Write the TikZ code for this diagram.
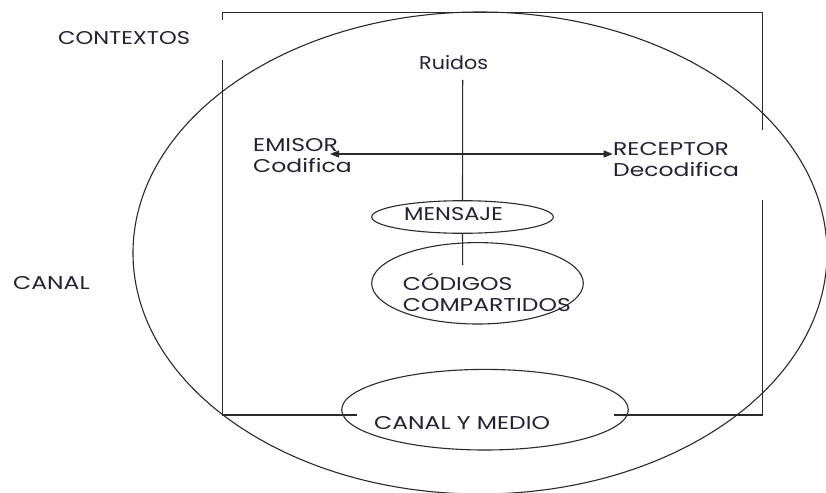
\documentclass[tikz,border=0pt]{standalone}
\usepackage{fontspec}
\usepackage{graphicx}
\setmainfont{Poppins}[FakeStretch=1.27]
\usetikzlibrary{shapes.geometric,arrows.meta}
\definecolor{inkc}{HTML}{222233}
\definecolor{linec}{HTML}{2A2A2A}
\begin{document}
\begin{tikzpicture}[x=1pt,y=-1pt,
  lbl/.style={inner sep=0pt,text=inkc,font=\fontsize{18.5}{21}\selectfont,align=left},
  oval/.style={ellipse,draw=linec,line width=1.1pt,inner sep=0pt},
  edge/.style={draw=linec,line width=1.1pt}]
\fill[white] (0,0) rectangle (826,492);
\useasboundingbox (0,0) rectangle (826,492);
% context frame
\draw[edge] (222.7,20) -- (222.7,12.3) -- (762.7,12.3) -- (762.7,130);
\draw[edge] (222.7,60) -- (222.7,415) -- (356.7,415);
\draw[edge] (614,415) -- (762.7,415) -- (762.7,200);
% ellipses
\node[oval,minimum width=694pt,minimum height=482pt] (canalov) at (480,253) {};
\node[oval,minimum width=181.6pt,minimum height=32.6pt] (mensajeov) at (462.5,217) {};
\node[oval,minimum width=211.6pt,minimum height=81.4pt] (codigosov) at (477.5,283.3) {};
\node[oval,minimum width=286.6pt,minimum height=80.6pt] (medioov) at (485,409.7) {};
% labels
\node[lbl,anchor=base west] (contextos) at (58,45) {\scalebox{0.96}[1]{CONTEXTOS}};
\node[lbl,anchor=base west] (canal) at (13,289) {CANAL};
\node[lbl,anchor=base west] (ruidos) at (419,70) {\scalebox{0.88}[1]{Ruidos}};
\node[lbl,anchor=base west] (mensaje) at (404,220.7) {\scalebox{0.96}[1]{MENSAJE}};
\node[lbl,anchor=base west] (medio) at (374,429) {CANAL Y MEDIO};
\node[lbl,anchor=north west] (emisor) at (253,138.5) {EMISOR\\Codifica};
\node[lbl,anchor=north west] (receptor) at (613,142) {RECEPTOR\\Decodifica};
\node[lbl,anchor=north west] (codigos) at (402.7,273) {CÓDIGOS\\COMPARTIDOS};
% connectors
\coordinate (ruidosend) at (462.7,80);
\coordinate (arrowl) at (330,154);
\coordinate (arrowr) at (612.7,154);
\coordinate (codigosin) at (462.7,265);
\draw[edge] (ruidosend) -- (mensajeov.north);
\draw[edge] (mensajeov.south) -- (codigosin);
\draw[edge,{Triangle[length=9pt,width=7pt]}-{Triangle[length=9pt,width=7pt]}] (arrowl) -- (arrowr);
\end{tikzpicture}
\end{document}
